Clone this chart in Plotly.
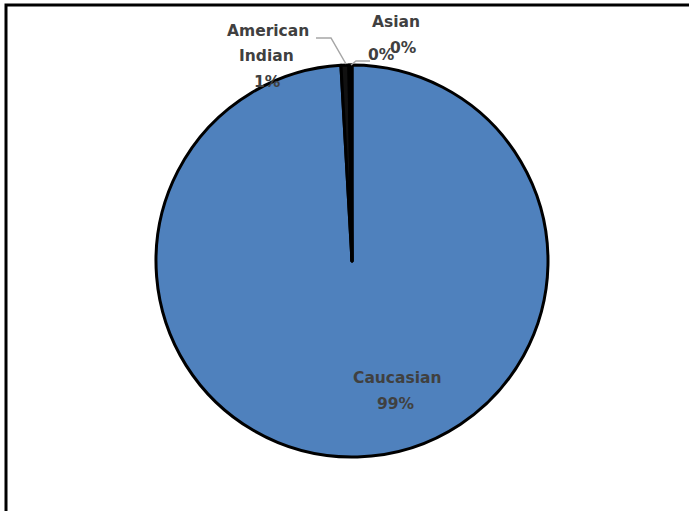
import plotly.graph_objects as go

categories = ["Caucasian", "American Indian", "Asian", "Other"]
values = [99.1, 0.65, 0.15, 0.1]
pct_labels = ["99%", "1%", "0%", "0%"]
colors = ["#4F81BD", "#111111", "#9BBB59", "#8064A2"]

W, H = 689, 511
def px(x): return x / W
def py(y): return 1 - y / H

cx, cy, r = 352, 261, 196

fig = go.Figure(go.Pie(
    labels=categories, values=values, sort=False, direction="clockwise",
    rotation=0, textinfo="none", hoverinfo="label+percent",
    marker=dict(colors=colors, line=dict(color="black", width=3)),
    domain=dict(x=[px(cx - r), px(cx + r)], y=[py(cy + r), py(cy - r)]),
    showlegend=False,
))

font = dict(family="DejaVu Sans", size=15.5, color="#404040")
ann = [
    ("<b>Caucasian</b>", 397, 378),
    ("<b>" + pct_labels[0] + "</b>", 396, 404),
    ("<b>American</b>", 268, 31),
    ("<b>Indian</b>", 266, 56),
    ("<b>" + pct_labels[1] + "</b>", 267, 82),
    ("<b>Asian</b>", 396, 22),
    ("<b>" + pct_labels[2] + "</b>", 404, 48),
    ("<b>" + pct_labels[3] + "</b>", 381, 55),
]
annotations = [dict(text=t, x=px(x), y=py(y), xref="paper", yref="paper",
                    xanchor="center", yanchor="middle", showarrow=False, font=font)
               for t, x, y in ann]

shapes = [
    dict(type="rect", xref="paper", yref="paper", x0=px(6), y0=-0.05, x1=1.05, y1=py(5),
         line=dict(color="black", width=3)),
    dict(type="path", xref="paper", yref="paper",
         path=f"M {px(316)} {py(38)} L {px(331)} {py(38)} L {px(346)} {py(64)}",
         line=dict(color="#A6A6A6", width=1.5)),
    dict(type="path", xref="paper", yref="paper",
         path=f"M {px(370)} {py(61)} L {px(356)} {py(61)} L {px(351)} {py(65)}",
         line=dict(color="#A6A6A6", width=1.5)),
]

fig.update_layout(
    width=W, height=H, margin=dict(l=0, r=0, t=0, b=0),
    paper_bgcolor="white", plot_bgcolor="white",
    annotations=annotations, shapes=shapes,
)
fig.write_html("out.html")
